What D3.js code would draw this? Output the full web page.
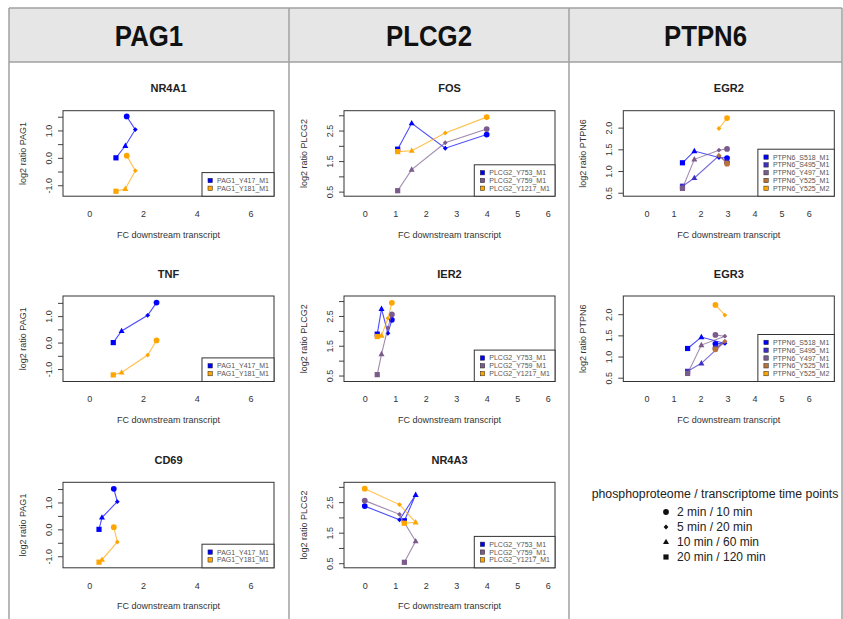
<!DOCTYPE html>
<html>
<head>
<meta charset="utf-8">
<script src="https://cdn.jsdelivr.net/npm/d3@7"></script>
<style>
  body { margin: 0; background: #fff; }
  svg { display: block; font-family: "Liberation Sans", Arial, sans-serif; }
</style>
</head>
<body>
<script>
// kinase columns and their downstream transcripts
var genes = ["PAG1", "PLCG2", "PTPN6"];
var transcripts = [["NR4A1", "TNF", "CD69"], ["FOS", "IER2", "NR4A3"], ["EGR2", "EGR3"]];

// phosphosites per gene
var pag1Sites = ["PAG1_Y417_M1", "PAG1_Y181_M1"];
var plcg2Sites = ["PLCG2_Y753_M1", "PLCG2_Y759_M1", "PLCG2_Y1217_M1"];
var ptpn6Sites = ["PTPN6_S518_M1", "PTPN6_S495_M1", "PTPN6_Y497_M1", "PTPN6_Y525_M1", "PTPN6_Y525_M2"];

var pag1Colors = ["#0000ff", "#ffa500"];
var plcg2Colors = ["#0000ff", "#7b5a8c", "#ffa500"];
var ptpn6Colors = ["#0000ff", "#3e30c4", "#7b5a8c", "#b8733a", "#ffa500"];

// log2 ratio per site at 2, 5, 10, 20 min
var pag1Ratio = [[1.51, 1.03, 0.44, 0.00], [0.08, -0.47, -1.13, -1.22]];
var plcg2Ratio = [[2.37, 1.92, 2.74, 1.89], [2.55, 2.10, 1.22, 0.53], [2.94, 2.42, 1.84, 1.81]];
var ptpn6Ratio = [[1.30, 1.31, 1.46, 1.19], [1.20, 1.35, 0.84, 0.65], [1.51, 1.48, 1.27, 0.60],
                  [1.17, 1.36, null, null], [2.22, 1.98, null, null]];

// FC of transcript at 10, 20, 60, 120 min
var nr4a1FC = [1.39, 1.71, 1.34, 0.99];
var tnfFC = [2.50, 2.17, 1.20, 0.89];
var cd69FC = [0.91, 1.04, 0.47, 0.36];
var fosFC = [4.00, 2.64, 1.54, 1.08];
var ier2FC = [0.89, 0.76, 0.55, 0.41];
var nr4a3FC = [0.00, 1.14, 1.67, 1.30];
var egr2FC = [2.98, 2.68, 1.77, 1.33];
var egr3FC = [2.55, 2.90, 2.03, 1.52];

var timeLabels = ["2 min / 10 min", "5 min / 20 min", "10 min / 60 min", "20 min / 120 min"];

// axis settings
var xDomains = [[-0.98, 6.87], [-0.68, 6.24], [-0.86, 6.95]];
var xTicks = [[0, 2, 4, 6], [0, 1, 2, 3, 4, 5, 6], [0, 1, 2, 3, 4, 5, 6]];
var yDomains = [[[-1.40, 1.72], [-1.47, 1.76], [-1.43, 1.75]],
                [[0.35, 3.15], [0.30, 3.17], [0.35, 3.15]],
                [[0.42, 2.39], [0.41, 2.43]]];
var yTicks = [[-1, -0.5, 0, 0.5, 1, 1.5], [0.5, 1, 1.5, 2, 2.5, 3], [0.5, 1, 1.5, 2]];
var yLabeled = [[-1, 0, 1], [0.5, 1.5, 2.5], [0.5, 1, 1.5, 2]];

var sites = [pag1Sites, plcg2Sites, ptpn6Sites];
var colors = [pag1Colors, plcg2Colors, ptpn6Colors];
var ratios = [pag1Ratio, plcg2Ratio, ptpn6Ratio];
var fcs = [[nr4a1FC, tnfFC, cd69FC], [fosFC, ier2FC, nr4a3FC], [egr2FC, egr3FC]];

var W = 843, H = 619;
var svg = d3.select("body").append("svg").attr("width", W).attr("height", H);

// table frame
var colX = [9, 289, 569, 842];
svg.append("rect").attr("x", colX[0]).attr("y", 8).attr("width", colX[3] - colX[0]).attr("height", 54)
  .attr("fill", "#e6e6e6");
svg.append("line").attr("x1", colX[0]).attr("x2", colX[3]).attr("y1", 8).attr("y2", 8).attr("stroke", "#a0a0a0").attr("stroke-width", 1.5);
svg.append("line").attr("x1", colX[0]).attr("x2", colX[3]).attr("y1", 62).attr("y2", 62).attr("stroke", "#a0a0a0").attr("stroke-width", 1.5);
colX.forEach(function (x) {
  svg.append("line").attr("x1", x).attr("x2", x).attr("y1", 8).attr("y2", H).attr("stroke", "#a0a0a0").attr("stroke-width", 1.5);
});
genes.forEach(function (g, i) {
  var cx = (colX[i] + colX[i + 1]) / 2;
  svg.append("text").attr("transform", "translate(" + cx + ",46) scale(0.86,1)")
    .attr("text-anchor", "middle")
    .style("font-weight", "bold").style("font-size", "30px").attr("fill", "#111").text(g);
});

// symbols for the time points
function symbolPath(k) {
  if (k == 0) return d3.symbol(d3.symbolCircle, 26)();
  if (k == 1) return "M0,-2.4L2.4,0L0,2.4L-2.4,0Z";
  if (k == 2) return "M0,-3.3L3,2.1L-3,2.1Z";
  return "M-2.6,-2.6H2.6V2.6H-2.6Z";
}

var boxLeft = [63, 344, 623.3];
var boxTop = [110.7, 296, 482.3];
var boxW = 211, boxH = 85.5;

fcs.forEach(function (col, ci) {
  col.forEach(function (fc, ri) {
    var x0 = boxLeft[ci], y0 = boxTop[ri];
    var x = d3.scaleLinear().domain(xDomains[ci]).range([x0, x0 + boxW]);
    var y = d3.scaleLinear().domain(yDomains[ci][ri]).range([y0 + boxH, y0]);
    var g = svg.append("g");

    g.append("text").attr("x", x0 + boxW / 2).attr("y", y0 - 18.5).attr("text-anchor", "middle")
      .style("font-weight", "bold").style("font-size", "11px").attr("fill", "#222").text(transcripts[ci][ri]);

    var ya = g.append("g").attr("transform", "translate(" + x0 + ",0)")
      .call(d3.axisLeft(y).tickValues(yTicks[ci]).tickSize(5)
        .tickFormat(function (d) { return yLabeled[ci].indexOf(d) >= 0 ? d.toFixed(1) : ""; }));
    ya.select(".domain").remove();
    ya.selectAll("line").attr("stroke", "#444");
    ya.selectAll("text").attr("transform", "rotate(-90)").attr("x", 0).attr("y", -11.5).attr("dy", 0)
      .attr("text-anchor", "middle").style("font-size", "9px").attr("fill", "#333");

    var xa = g.append("g").attr("transform", "translate(0," + (y0 + boxH) + ")")
      .call(d3.axisBottom(x).tickValues(xTicks[ci]).tickSize(0).tickFormat(d3.format("d")));
    xa.select(".domain").remove();
    xa.selectAll("text").attr("y", 14.5).style("font-size", "9px").attr("fill", "#333");

    g.append("text").attr("x", x0 + boxW / 2).attr("y", y0 + boxH + 41.5).attr("text-anchor", "middle")
      .style("font-size", "9px").attr("fill", "#333").text("FC downstream transcript");
    g.append("text").attr("transform", "translate(" + (x0 - 37.5) + "," + (y0 + boxH / 2) + ") rotate(-90)")
      .attr("text-anchor", "middle").style("font-size", "9px").attr("fill", "#333")
      .text("log2 ratio " + genes[ci]);

    // series
    sites[ci].forEach(function (site, si) {
      var pts = fc.map(function (v, k) { return { x: v, y: ratios[ci][si][k], k: k }; })
        .filter(function (p) { return p.y != null; });
      g.append("path").datum(pts)
        .attr("d", d3.line().x(function (p) { return x(p.x); }).y(function (p) { return y(p.y); }))
        .attr("fill", "none").attr("stroke", colors[ci][si]).attr("stroke-opacity", 0.7).attr("stroke-width", 1.1);
      g.selectAll(null).data(pts).enter().append("path")
        .attr("transform", function (p) { return "translate(" + x(p.x) + "," + y(p.y) + ")"; })
        .attr("d", function (p) { return symbolPath(p.k); })
        .attr("fill", colors[ci][si]);
    });

    g.append("rect").attr("x", x0).attr("y", y0).attr("width", boxW).attr("height", boxH)
      .attr("fill", "none").attr("stroke", "#333").attr("stroke-width", 1);

    // legend box
    var n = sites[ci].length, rowH = 7.8;
    var lg = g.append("g");
    var labels = lg.selectAll(null).data(sites[ci]).enter().append("text")
      .attr("x", 0).attr("y", function (d, i) { return 4 + rowH * i + rowH / 2 + 2.5; })
      .style("font-size", "7px").attr("fill", "#555").text(function (d) { return d; });
    var tw = d3.max(labels.nodes(), function (t) { return t.getComputedTextLength(); });
    var lw = tw + 20, lh = 8 + n * rowH;
    var lx = x0 + boxW - lw, ly = y0 + boxH - lh;
    lg.attr("transform", "translate(" + lx + "," + ly + ")");
    lg.insert("rect", "text").attr("width", lw).attr("height", lh).attr("fill", "#fff").attr("stroke", "#333").attr("stroke-width", 1);
    labels.attr("x", 15);
    lg.selectAll(null).data(sites[ci]).enter().append("rect")
      .attr("x", 6).attr("y", function (d, i) { return 4 + rowH * i + rowH / 2 - 2.2; })
      .attr("width", 4.4).attr("height", 4.4)
      .attr("fill", function (d, i) { return colors[ci][i]; }).attr("stroke", "#222").attr("stroke-width", 0.5);
  });
});

// time point legend
svg.append("text").attr("x", 715).attr("y", 498).attr("text-anchor", "middle")
  .style("font-size", "12.3px").attr("fill", "#222").text("phosphoproteome / transcriptome time points");
timeLabels.forEach(function (t, i) {
  var yy = 512 + i * 15;
  svg.append("path").attr("transform", "translate(666," + yy + ")").attr("d", symbolPath(i)).attr("fill", "#111");
  svg.append("text").attr("x", 677).attr("y", yy + 4.3).style("font-size", "12px").attr("fill", "#222").text(t);
});
</script>
</body>
</html>
